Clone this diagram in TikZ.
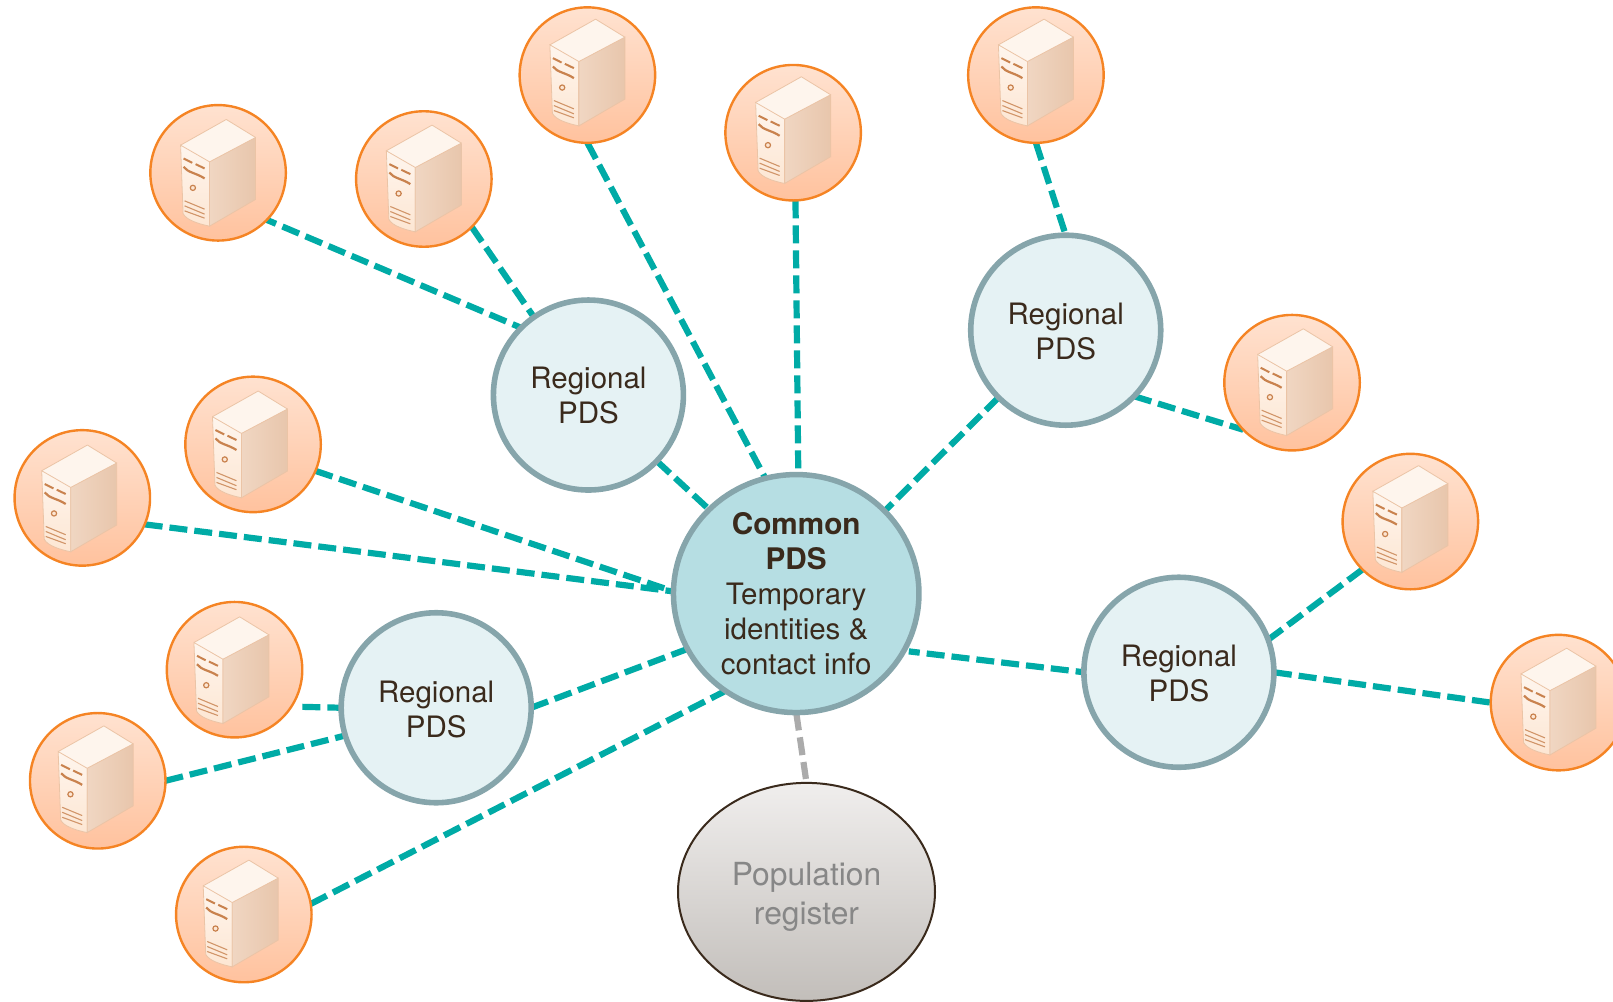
\documentclass[tikz,border=0pt]{standalone}
\usepackage{fontspec}
\setmainfont{TeX Gyre Heros}
\usetikzlibrary{shapes.geometric,backgrounds}
\definecolor{ink}{HTML}{3A2A1C}
\definecolor{linkteal}{HTML}{00ABA6}
\definecolor{ringgrey}{HTML}{86A5AB}
\definecolor{srvorange}{HTML}{F58424}
\definecolor{srvedge}{HTML}{EBC4A6}
\definecolor{srvmark}{HTML}{C9824E}
\definecolor{regfill}{HTML}{E5F2F4}
\definecolor{cfill}{HTML}{B6DEE3}
\definecolor{popt}{HTML}{F0EEED}
\definecolor{popb}{HTML}{C2BEBA}
\definecolor{circt}{HTML}{FFE2D0}
\definecolor{circb}{HTML}{FFC29E}
\definecolor{sidea}{HTML}{F0D6C2}
\definecolor{sideb}{HTML}{F9E8DB}
\definecolor{sidec}{HTML}{E8C6AC}
\tikzset{
  srvnode/.style={circle,draw=srvorange,line width=2.4pt,minimum size=135.5pt,inner sep=0,outer sep=0,
    top color=circt,bottom color=circb},
  regnode/.style={circle,draw=ringgrey,line width=5.6pt,fill=regfill,minimum size=190pt,inner sep=0,outer sep=0},
  regtext/.style={text=ink,align=center,font=\fontsize{29.5}{35}\selectfont},
  link/.style={draw=linkteal,line width=6.2pt,dash pattern=on 18pt off 7pt},
  greylink/.style={draw=black!33,line width=6.2pt,dash pattern=on 18pt off 7pt},
  server/.pic={
    \begin{scope}[scale=.972]
    \path[fill=white!92!srvorange] (8.2,-54.4) -- (37.5,-36.4) -- (-8.5,-12) -- (-37.5,-28.7) -- cycle;
    \path[draw=srvedge,line width=.8pt,top color=white!92!srvorange,bottom color=srvorange!20!white]
       (-37.5,-28.7) -- (-8.5,-12) -- (-8.5,52.3) .. controls (-20,50) and (-32,46) .. (-35,39.7) -- cycle;
    \path[draw=srvedge,line width=.8pt,left color=sidea,middle color=sideb,right color=sidec]
       (-8.5,-12) -- (37.5,-36.4) -- (37.5,25.6) -- (-8.5,52.3) -- cycle;
    \draw[srvedge,line width=.8pt] (8.2,-54.4) -- (37.5,-36.4) (8.2,-54.4) -- (-37.5,-28.7);
    \draw[srvmark,line width=2pt] (-34.5,-15.4) -- (-25.8,-11) (-22.5,-9.7) -- (-13.5,-5.4);
    \draw[srvmark,line width=2.2pt] (-34.5,-7) .. controls (-30,-1) and (-22,-1) .. (-13.5,4.6);
    \draw[srvmark,line width=1.2pt,fill=srvorange!20!white] (-25.2,14) circle (2.6);
    \draw[srvmark!85!white,line width=1.1pt] (-33.5,27) -- (-13.5,35.3) (-33.5,32) -- (-13.5,40.3) (-33.5,37) -- (-13.5,44.3);
    \end{scope}
  }
}
% name, x, y, icon dx, icon dy
\newcommand{\srv}[5]{\node[srvnode] (#1) at (#2,#3) {}; \pic at (#2+#4,#3+#5) {server};}
% name, x, y, text dy
\newcommand{\reg}[4]{\node[regnode,label={[regtext,yshift=#4pt]center:{Regional\\PDS}}] (#1) at (#2,#3) {};}
\begin{document}
\begin{tikzpicture}[x=1.0287pt,y=-1.0287pt]
\useasboundingbox (0,0) rectangle (1568,973.1);
\srv{sa}{212}{168}{0}{1}
\srv{sb}{412}{174}{0}{0.5}
\srv{sc}{571}{73}{0}{-1.5}
\srv{sd}{771}{129}{0}{-1.5}
\srv{se}{1007}{73}{0}{-1.5}
\srv{sf}{1256}{372}{3}{0.5}
\srv{sg}{1371}{507}{0}{-1.5}
\srv{sh}{1515}{683}{0}{0}
\srv{si}{246}{432}{-3}{1}
\srv{sj}{80}{484}{-3}{1.5}
\srv{sk}{228}{651}{-3}{1.5}
\srv{sl}{95}{759}{-2}{-0.5}
\srv{sm}{237}{889}{-3}{0}
\reg{ra}{572}{384}{0}
\reg{rb}{1036}{321}{-1}
\reg{rc}{1146}{653.5}{-1.5}
\reg{rd}{424}{688}{-2}
\node[ellipse,draw=ringgrey,line width=5.5pt,fill=cfill,minimum width=245.5pt,minimum height=238pt,inner sep=0,outer sep=0,
  label={[text=ink,align=center,font=\fontsize{29.5}{35}\selectfont]center:{{\fontsize{29.7}{35}\selectfont\bfseries Common}\\{\fontsize{29.7}{35}\selectfont\bfseries PDS}\\Temporary\\identities \&\\contact info}}] (c) at (774,577) {};
\node[ellipse,draw=ink,line width=2pt,top color=popt,bottom color=popb,minimum width=257pt,minimum height=218pt,inner sep=0,outer sep=0,
  label={[text=black!47,align=center,font=\fontsize{31.8}{39}\selectfont,yshift=-5pt]center:{Population\\register}}] (p) at (784,867) {};
\begin{scope}[on background layer]
\draw[link,dash phase=8pt] (sa.-44.4) -- (ra.135);
\draw[link] (sb.-45) -- (ra.125.4);
\draw[link] (ra.-44) -- (c.136);
\draw[link] (sc.-90) -- (c.105.7);
\draw[link] (sd.-88) -- (c.89.5);
\draw[link] (se.-90) -- (rb.90.5);
\draw[link] (rb.225.4) -- (c.43.6);
\draw[link] (rb.-44.6) -- (sf.224);
\draw[link] (sg.225) -- (rc.20.8);
\draw[link] (rc.-0.6) -- (sh.180);
\draw[link,shorten <=5pt,dash phase=7pt] (c.-28.2) -- (rc.180.6);
\draw[link] (si.-23.9) -- (c.179);
\draw[link] (sj.-23) -- (c.179);
\draw[link] (rd.0) -- (c.207.4);
\draw[link,shorten <=11pt] (sk.-33.5) -- (rd.180);
\draw[link] (sl.0) -- (rd.197);
\draw[link] (sm.9.5) -- (c.234);
\draw[greylink,shorten >=4pt] (c.-90) -- (p.90);
\end{scope}
\end{tikzpicture}
\end{document}
